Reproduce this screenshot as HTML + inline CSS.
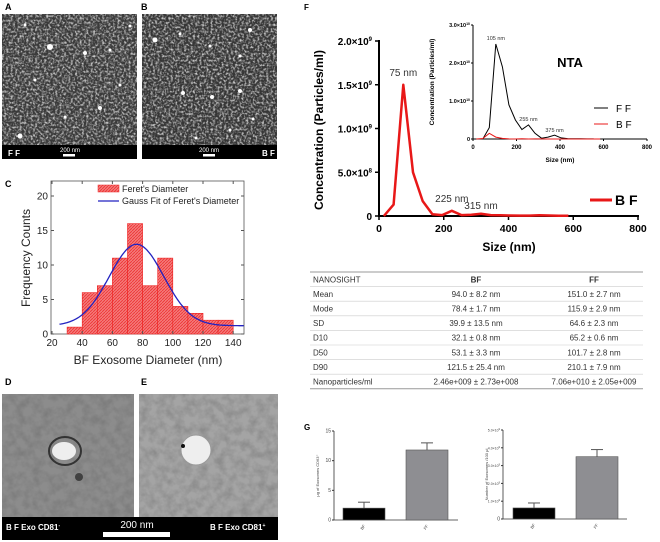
<!DOCTYPE html>
<html><head><meta charset="utf-8"><style>
body{margin:0;background:#fff;width:660px;height:542px;overflow:hidden}
svg{font-family:"Liberation Sans",sans-serif;display:block}
</style></head><body>
<svg id="s" width="660" height="542" viewBox="0 0 660 542">
<defs>
<filter id="sem" x="0" y="0" width="100%" height="100%"><feTurbulence type="fractalNoise" baseFrequency="0.45" numOctaves="2" seed="3"/><feColorMatrix type="matrix" values="0 0 0 0 0.6  0 0 0 0 0.6  0 0 0 0 0.6  2.6 0 0 0 -1.1"/></filter>
<filter id="tem" x="0" y="0" width="100%" height="100%"><feTurbulence type="fractalNoise" baseFrequency="0.12" numOctaves="3" seed="7"/><feColorMatrix type="matrix" values="0 0 0 0 0.2  0 0 0 0 0.2  0 0 0 0 0.2  2 0 0 0 -0.7"/></filter>
<pattern id="hatch" width="3" height="3" patternUnits="userSpaceOnUse"><rect width="3" height="3" fill="#f47a7a"/><path d="M0,3 L3,0" stroke="#e33" stroke-width="0.8"/></pattern>
</defs>
<text x="5" y="10" font-size="9" font-weight="bold">A</text>
<text x="141" y="10" font-size="9" font-weight="bold">B</text>
<g>
<rect x="2" y="14" width="135" height="131" fill="#3a3a3a"/><rect x="2" y="14" width="135" height="131" filter="url(#sem)"/>
<rect x="2" y="145" width="135" height="14" fill="#000"/>
<text x="8" y="156" fill="#fff" font-size="8" font-weight="bold">F F</text>
<text x="70" y="152" fill="#fff" font-size="6" text-anchor="middle">200 nm</text><rect x="63" y="154" width="12" height="2.5" fill="#fff"/>
</g>
<g>
<rect x="142" y="14" width="135" height="131" fill="#363636"/><rect x="142" y="14" width="135" height="131" filter="url(#sem)"/>
<rect x="142" y="145" width="135" height="14" fill="#000"/>
<text x="262" y="156" fill="#fff" font-size="8" font-weight="bold">B F</text>
<text x="209" y="152" fill="#fff" font-size="6" text-anchor="middle">200 nm</text><rect x="203" y="154" width="12" height="2.5" fill="#fff"/>
</g>
<g id="dots" fill="#fff"></g>
<text x="5" y="187" font-size="9" font-weight="bold">C</text>
<g id="cg"></g>
<text x="5" y="385" font-size="9" font-weight="bold">D</text>
<text x="141" y="385" font-size="9" font-weight="bold">E</text>
<g>
<rect x="2" y="394" width="132" height="123" fill="#8c8c8c"/><rect x="2" y="394" width="132" height="123" filter="url(#tem)"/>
<ellipse cx="65" cy="451" rx="16" ry="14" fill="none" stroke="#333" stroke-width="2"/>
<ellipse cx="64" cy="451" rx="12" ry="9" fill="#eee"/>
<circle cx="79" cy="477" r="4" fill="#222" opacity="0.7"/>
</g>
<g>
<rect x="139" y="394" width="139" height="123" fill="#a4a4a4"/><rect x="139" y="394" width="139" height="123" filter="url(#tem)" opacity="0.6"/>
<circle cx="196" cy="450" r="15" fill="#eee" stroke="#999" stroke-width="1"/>
<circle cx="183" cy="446" r="2" fill="#111"/>
</g>
<rect x="2" y="517" width="276" height="23" fill="#000"/>
<text x="6" y="530" fill="#fff" font-size="8" font-weight="bold">B F Exo CD81<tspan font-size="5" dy="-3">-</tspan></text>
<text x="210" y="530" fill="#fff" font-size="8" font-weight="bold">B F Exo CD81<tspan font-size="5" dy="-3">+</tspan></text>
<text x="137" y="528" fill="#fff" font-size="10" text-anchor="middle">200 nm</text>
<rect x="103" y="532" width="67" height="5" fill="#fff"/>
<text x="304" y="10" font-size="8" font-weight="bold">F</text>
<g id="fg"></g>
<g id="ig"></g>
<g id="tg"></g>
<text x="304" y="430" font-size="8" font-weight="bold">G</text>
<g id="gg"></g>
</svg>
<script>
// ---- Panel C data ----
const binStarts=[30,40,50,60,70,80,90,100,110,120,130];
const binCounts=[1,6,7,11,16,7,11,4,3,2,2];
const cXTicks=[20,40,60,80,100,120,140];
const cYTicks=[0,5,10,15,20];
const gaussParams=[1.2,11.8,76,18]; // offset, amplitude, center, sigma
// ---- Panel F main data ----
const bfSizes=[15,45,75,105,135,165,195,225,255,285,315,345,375,405,435,465,495,525,555,585];
const bfConc=[0,1.3e8,1.5e9,5e8,1.7e8,2e7,1e7,6e7,1e7,1.5e7,2.5e7,1e7,8e6,6e6,5e6,5e6,8e6,6e6,4e6,2e6];
const fXTicks=[0,200,400,600,800];
const fYTicks=[0,5e8,1e9,1.5e9,2e9];
const fYLabels=["0","5.0×10","1.0×10","1.5×10","2.0×10"];
const fYExp=["","8","9","9","9"];
// ---- Inset data ----
const ffSizes=[45,75,105,135,165,195,225,255,285,315,345,375,405,435,465,495,525,555];
const ffConc=[0,3e9,2.5e10,1.9e10,9e9,5e9,2.5e9,3.7e9,1.5e9,2e8,5e8,1e9,3e8,1e8,5e7,5e7,3e7,2e7];
const iYTicks=[0,1e10,2e10,3e10];
const iYLabels=["0","1.0×10","2.0×10","3.0×10"];
const iYExp=["","10","10","10"];
// ---- Table ----
const tRows=["NANOSIGHT","Mean","Mode","SD","D10","D50","D90","Nanoparticles/ml"];
const tBF=["BF","94.0 ± 8.2 nm","78.4 ± 1.7 nm","39.9 ± 13.5 nm","32.1 ± 0.8 nm","53.1 ± 3.3 nm","121.5 ± 25.4 nm","2.46e+009 ± 2.73e+008"];
const tFF=["FF","151.0 ± 2.7 nm","115.9 ± 2.9 nm","64.6 ± 2.3 nm","65.2 ± 0.6 nm","101.7 ± 2.8 nm","210.1 ± 7.9 nm","7.06e+010 ± 2.05e+009"];
// ---- Panel G ----
const gCats=["BF","FF"];
const g1Vals=[2.0,11.8];
const g1Err=[1.0,1.2];
const g2Vals=[6.2e8,3.5e9];
const g2Err=[2.8e8,4e8];

const NS="http://www.w3.org/2000/svg";
function mk(p,t,a,txt){const e=document.createElementNS(NS,t);for(const k in a)e.setAttribute(k,a[k]);if(txt!==undefined)e.textContent=txt;p.appendChild(e);return e;}

(function(){const d=document.getElementById('dots');
const pts=[[25,25,1.5],[50,47,3],[85,53,2],[110,50,1.5],[20,136,2.5],[100,108,2],[65,117,1.5],[130,26,1.5],[35,80,1.5],[120,85,1.5],[155,40,2.5],[180,34,1.5],[210,46,1.5],[240,56,1.5],[183,93,2],[212,97,2],[240,91,2],[253,119,1.5],[230,130,1.5],[196,138,1.5],[250,30,2]];
pts.forEach(p=>mk(d,'circle',{cx:p[0],cy:p[1],r:p[2]}));})();

(function(){const g=document.getElementById('cg');
const X=v=>52+(v-20)*1.51, Y=v=>334-v*6.9;
mk(g,'rect',{x:51,y:181,width:193,height:153,fill:'none',stroke:'#555','stroke-width':0.8});
binStarts.forEach((b,i)=>{const r=mk(g,'rect',{x:X(b),y:Y(binCounts[i]),width:X(b+10)-X(b),height:Y(0)-Y(binCounts[i]),fill:'url(#hatch)',stroke:'#e22','stroke-width':0.6});

});
let d='';for(let v=25;v<=147;v+=1){const y=gaussParams[0]+gaussParams[1]*Math.exp(-Math.pow(v-gaussParams[2],2)/(2*gaussParams[3]*gaussParams[3]));d+=(v==25?'M':'L')+X(v).toFixed(1)+','+Y(y).toFixed(1);}
const gp=mk(g,'path',{d:d,fill:'none',stroke:'#2222c0','stroke-width':1.3});


cXTicks.forEach(v=>{mk(g,'line',{x1:X(v),x2:X(v),y1:334,y2:331,stroke:'#555'});mk(g,'line',{x1:X(v),x2:X(v),y1:181,y2:184,stroke:'#555'});
const t=mk(g,'text',{x:X(v),y:346,'font-size':10,'text-anchor':'middle',fill:'#222'},v);

});
cYTicks.forEach(v=>{mk(g,'line',{x1:51,x2:54,y1:Y(v),y2:Y(v),stroke:'#555'});mk(g,'line',{x1:244,x2:241,y1:Y(v),y2:Y(v),stroke:'#555'});
const t=mk(g,'text',{x:48,y:Y(v)+3.5,'font-size':10,'text-anchor':'end',fill:'#222'},v);

});
const yt=mk(g,'text',{x:0,y:0,'font-size':12,'text-anchor':'middle',transform:'translate(30,258) rotate(-90)',fill:'#222'},'Frequency Counts');


const xt=mk(g,'text',{x:148,y:364,'font-size':12,'text-anchor':'middle',fill:'#222'},'BF Exosome Diameter (nm)');


const l1=mk(g,'rect',{x:98,y:185,width:21,height:7,fill:'url(#hatch)',stroke:'#e22','stroke-width':0.5});


mk(g,'text',{x:122,y:192,'font-size':9,fill:'#222'},"Feret's Diameter");
mk(g,'line',{x1:98,x2:119,y1:201,y2:201,stroke:'#2222c0','stroke-width':1.3});
mk(g,'text',{x:122,y:204,'font-size':9,fill:'#222'},"Gauss Fit of Feret's Diameter");
})();

(function(){const g=document.getElementById('fg');
const X=v=>379+v*259/800, Y=v=>216-v/2e9*175;
mk(g,'line',{x1:379,x2:379,y1:40,y2:217,stroke:'#000','stroke-width':2});
mk(g,'line',{x1:378,x2:639,y1:216,y2:216,stroke:'#000','stroke-width':2});
fXTicks.forEach(v=>{mk(g,'line',{x1:X(v),x2:X(v),y1:216,y2:220,stroke:'#000','stroke-width':1.5});
const t=mk(g,'text',{x:X(v),y:232,'font-size':10.5,'font-weight':'bold','text-anchor':'middle'},v);

});
fYTicks.forEach((v,i)=>{mk(g,'line',{x1:375,x2:379,y1:Y(v),y2:Y(v),stroke:'#000','stroke-width':1.5});
const t=mk(g,'text',{x:372,y:Y(v)+4,'font-size':10,'font-weight':'bold','text-anchor':'end'});
t.textContent=fYLabels[i];if(fYExp[i]){mk(t,'tspan',{'font-size':6,dy:-4},fYExp[i]);}

});
let d='';bfSizes.forEach((s,i)=>{d+=(i?'L':'M')+X(s).toFixed(1)+','+Y(bfConc[i]).toFixed(1);});
const p=mk(g,'path',{d:d,fill:'none',stroke:'#e81818','stroke-width':2.5,'stroke-linejoin':'round'});


mk(g,'text',{x:X(75),y:Y(1.5e9)-9,'font-size':10,'text-anchor':'middle',fill:'#333'},'75 nm');
mk(g,'text',{x:X(225),y:Y(6e7)-9,'font-size':10,'text-anchor':'middle',fill:'#333'},'225 nm');
mk(g,'text',{x:X(315),y:Y(2.5e7)-5,'font-size':10,'text-anchor':'middle',fill:'#333'},'315 nm');
const yt=mk(g,'text',{x:0,y:0,'font-size':12,'font-weight':'bold','text-anchor':'middle',transform:'translate(323,130) rotate(-90)'},'Concentration (Particles/ml)');


const xt=mk(g,'text',{x:509,y:251,'font-size':12,'font-weight':'bold','text-anchor':'middle'},'Size (nm)');


mk(g,'line',{x1:590,x2:612,y1:200,y2:200,stroke:'#e81818','stroke-width':3});
const lt=mk(g,'text',{x:615,y:205,'font-size':14,'font-weight':'bold'},'B F');


})();

(function(){const g=document.getElementById('ig');
const X=v=>473+v*174/800, Y=v=>139-v/3e10*114;
mk(g,'line',{x1:473,x2:473,y1:25,y2:139,stroke:'#000','stroke-width':1});
mk(g,'line',{x1:473,x2:647,y1:139,y2:139,stroke:'#000','stroke-width':1});
[0,200,400,600,800].forEach(v=>{mk(g,'line',{x1:X(v),x2:X(v),y1:139,y2:141,stroke:'#000'});
mk(g,'text',{x:X(v),y:149,'font-size':6,'font-weight':'bold','text-anchor':'middle'},v);});
iYTicks.forEach((v,i)=>{mk(g,'line',{x1:471,x2:473,y1:Y(v),y2:Y(v),stroke:'#000'});
const t=mk(g,'text',{x:470,y:Y(v)+2,'font-size':5.5,'font-weight':'bold','text-anchor':'end'});t.textContent=iYLabels[i];
if(iYExp[i])mk(t,'tspan',{'font-size':3.5,dy:-2},iYExp[i]);});
let d='';ffSizes.forEach((s,i)=>{d+=(i?'L':'M')+X(s).toFixed(1)+','+Y(ffConc[i]).toFixed(1);});
const p=mk(g,'path',{d:d,fill:'none',stroke:'#000','stroke-width':1});


let d2='';bfSizes.forEach((s,i)=>{d2+=(i?'L':'M')+X(s).toFixed(1)+','+Y(bfConc[i]).toFixed(1);});
const p2=mk(g,'path',{d:d2,fill:'none',stroke:'#e81818','stroke-width':1});


mk(g,'text',{x:X(105),y:Y(2.5e10)-4,'font-size':5.5,'text-anchor':'middle',fill:'#333'},'105 nm');
mk(g,'text',{x:X(255),y:Y(3.7e9)-4,'font-size':5.5,'text-anchor':'middle',fill:'#333'},'255 nm');
mk(g,'text',{x:X(375),y:Y(1e9)-3,'font-size':5.5,'text-anchor':'middle',fill:'#333'},'375 nm');
mk(g,'text',{x:0,y:0,'font-size':6.5,'font-weight':'bold','text-anchor':'middle',transform:'translate(434,82) rotate(-90)'},'Concentration (Particles/ml)');
mk(g,'text',{x:560,y:162,'font-size':6.5,'font-weight':'bold','text-anchor':'middle'},'Size (nm)');
const n=mk(g,'text',{x:570,y:67,'font-size':13,'font-weight':'bold','text-anchor':'middle'},'NTA');


mk(g,'line',{x1:594,x2:608,y1:108,y2:108,stroke:'#000'});
mk(g,'text',{x:616,y:112,'font-size':10}, 'F F');
mk(g,'line',{x1:594,x2:608,y1:124,y2:124,stroke:'#e81818'});
mk(g,'text',{x:616,y:128,'font-size':10}, 'B F');
})();

(function(){const g=document.getElementById('tg');
const top=272,rh=14.6;
mk(g,'line',{x1:310,x2:643,y1:top,y2:top,stroke:'#999','stroke-width':1});
tRows.forEach((r,i)=>{const y=top+rh*(i+1);
mk(g,'line',{x1:310,x2:643,y1:y,y2:y,stroke:i==tRows.length-1?'#999':'#ccc','stroke-width':i==tRows.length-1?1:0.6});
const c=y-rh/2+3;
const a=mk(g,'text',{x:313,y:c,'font-size':8,fill:'#333'},r);


mk(g,'text',{x:476,y:c,'font-size':8,'text-anchor':'middle',fill:'#333','font-weight':i?'normal':'bold'},tBF[i]);
mk(g,'text',{x:594,y:c,'font-size':8,'text-anchor':'middle',fill:'#333','font-weight':i?'normal':'bold'},tFF[i]);});
})();

function barChart(ax,bx,top,bot,max,vals,errs,ticks,labels,exps,ytitle,right,name){
const g=document.getElementById('gg');const Y=v=>bot-v/max*(bot-top);
mk(g,'line',{x1:ax,x2:ax,y1:top,y2:bot,stroke:'#333','stroke-width':0.8});
mk(g,'line',{x1:ax,x2:right,y1:bot,y2:bot,stroke:'#333','stroke-width':0.8});
ticks.forEach((v,i)=>{mk(g,'line',{x1:ax-2,x2:ax,y1:Y(v),y2:Y(v),stroke:'#333'});
const t=mk(g,'text',{x:ax-3,y:Y(v)+1.5,'font-size':labels[i].length>3?3.5:5,'text-anchor':'end',fill:'#444'});t.textContent=labels[i];
if(exps[i])mk(t,'tspan',{'font-size':2.5,dy:-1.5},exps[i]);});
vals.forEach((v,i)=>{const x=bx[i];
mk(g,'line',{x1:x+21,x2:x+21,y1:Y(v+errs[i]),y2:Y(v),stroke:'#555','stroke-width':1});
mk(g,'line',{x1:x+15,x2:x+27,y1:Y(v+errs[i]),y2:Y(v+errs[i]),stroke:'#555','stroke-width':1});
const r=mk(g,'rect',{x:x,y:Y(v),width:42,height:bot-Y(v),fill:i?'#8e8e92':'#000',stroke:'#555','stroke-width':0.6});


mk(g,'text',{x:0,y:0,'font-size':4,'text-anchor':'middle',fill:'#444',transform:'translate('+(x+21)+','+(bot+8)+') rotate(-55)'},gCats[i]);});
mk(g,'text',{x:0,y:0,'font-size':4,'text-anchor':'middle',fill:'#444',transform:'translate('+(ax-15)+','+((top+bot)/2)+') rotate(-90)'},ytitle);
}
barChart(334,[343,406],431,520,15,g1Vals,g1Err,[0,5,10,15],["0","5","10","15"],["","","",""],"μg of Exosomes CD63⁺",458,'g-left');
barChart(503,[513,576],430,519,5e9,g2Vals,g2Err,[0,1e9,2e9,3e9,4e9,5e9],["0","1.0×10","2.0×10","3.0×10","4.0×10","5.0×10"],["","9","9","9","9","9"],"Number of Exosomes /100 μl",627,'g-right');
</script>
</body></html>
